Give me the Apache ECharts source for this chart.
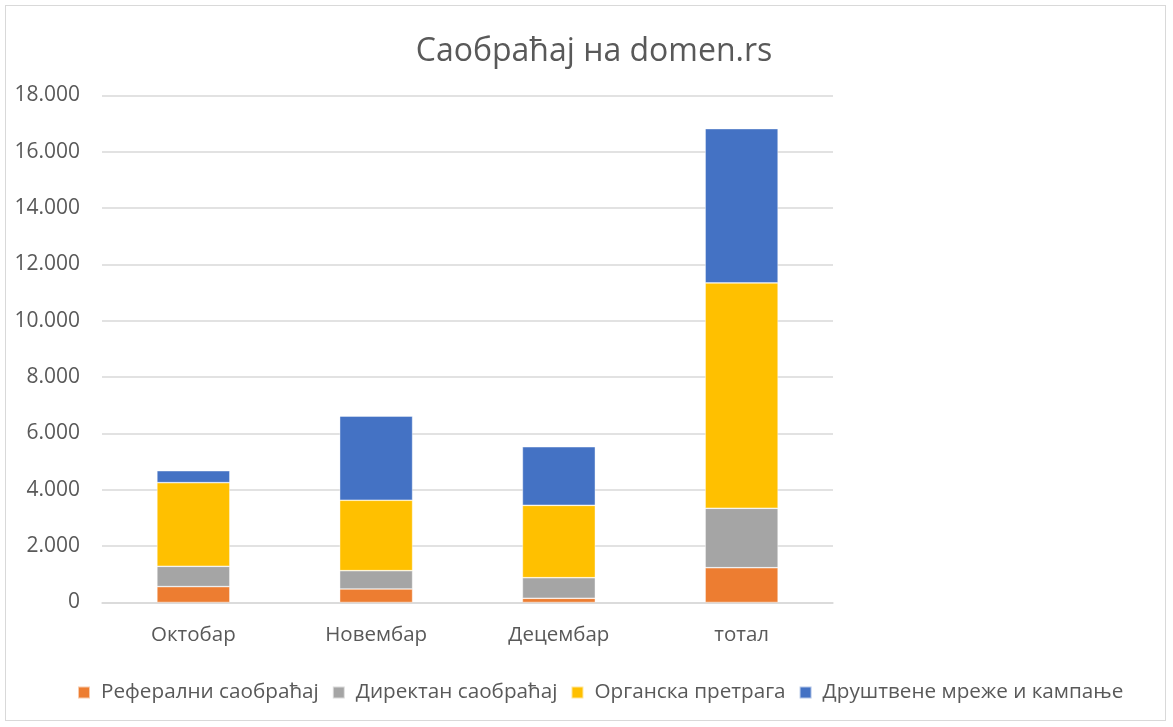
<!DOCTYPE html>
<html>
<head>
<meta charset="utf-8">
<script src="https://cdn.jsdelivr.net/npm/echarts@6/dist/echarts.min.js"></script>
<style>
html,body{margin:0;padding:0;background:#fff;}
#frame{position:absolute;left:5px;top:5px;width:1161px;height:716px;border:1.5px solid #d9d9d9;box-sizing:border-box;}
#chart{width:1173px;height:727px;}
</style>
</head>
<body>
<div id="frame"></div>
<div id="chart"></div>
<script>
var categories = ['Октобар', 'Новембар', 'Децембар', 'тотал'];
var seriesNames = ['Реферални саобраћај', 'Директан саобраћај', 'Органска претрага', 'Друштвене мреже и кампање'];
var referral = [565, 480, 150, 1235];
var direct = [720, 650, 730, 2110];
var organic = [2970, 2500, 2570, 8000];
var social = [425, 2990, 2080, 5480];
var colors = ['#ED7D31', '#A5A5A5', '#FFC000', '#4472C4'];

var dataSets = [referral, direct, organic, social];
var font = '"Open Sans", Lato, sans-serif';

function fmt(v){ return String(v).replace(/\B(?=(\d{3})+(?!\d))/g, '.'); }

var chart = echarts.init(document.getElementById('chart'), null, {renderer:'canvas'});
chart.setOption({
  animation: false,
  backgroundColor: 'transparent',
  title: {
    text: 'Саобраћај на domen.rs',
    left: 589, top: 31, textAlign: 'center',
    textStyle: {fontFamily: font, fontSize: 32, fontWeight: 'normal', color: '#595959'}
  },
  legend: {
    bottom: 19, left: 72,
    itemWidth: 12, itemHeight: 12, itemGap: 13,
    icon: 'rect',
    textStyle: {fontFamily: font, fontSize: 20.7, color: '#595959', padding: [0, 0, 0, 6]},
    data: seriesNames
  },
  grid: {left: 102, right: 340, top: 95.5, bottom: 124.5, containLabel: false},
  xAxis: {
    type: 'category', data: categories,
    axisLine: {lineStyle: {color: '#d9d9d9', width: 1.5}},
    axisTick: {show: false},
    axisLabel: {fontFamily: font, fontSize: 20.5, color: '#595959', margin: 22}
  },
  yAxis: {
    type: 'value', min: 0, max: 18000, interval: 2000,
    axisLine: {show: false}, axisTick: {show: false},
    splitLine: {lineStyle: {color: '#d9d9d9', width: 1.5}},
    axisLabel: {fontFamily: font, fontSize: 21, color: '#595959', margin: 22, formatter: fmt}
  },
  series: seriesNames.map(function(n, i){
    return {
      name: n, type: 'bar', stack: 'total', data: dataSets[i],
      barWidth: 73,
      itemStyle: {color: colors[i], borderColor: 'rgba(255,255,255,0.6)', borderWidth: 0.7}
    };
  })
});
</script>
</body>
</html>
